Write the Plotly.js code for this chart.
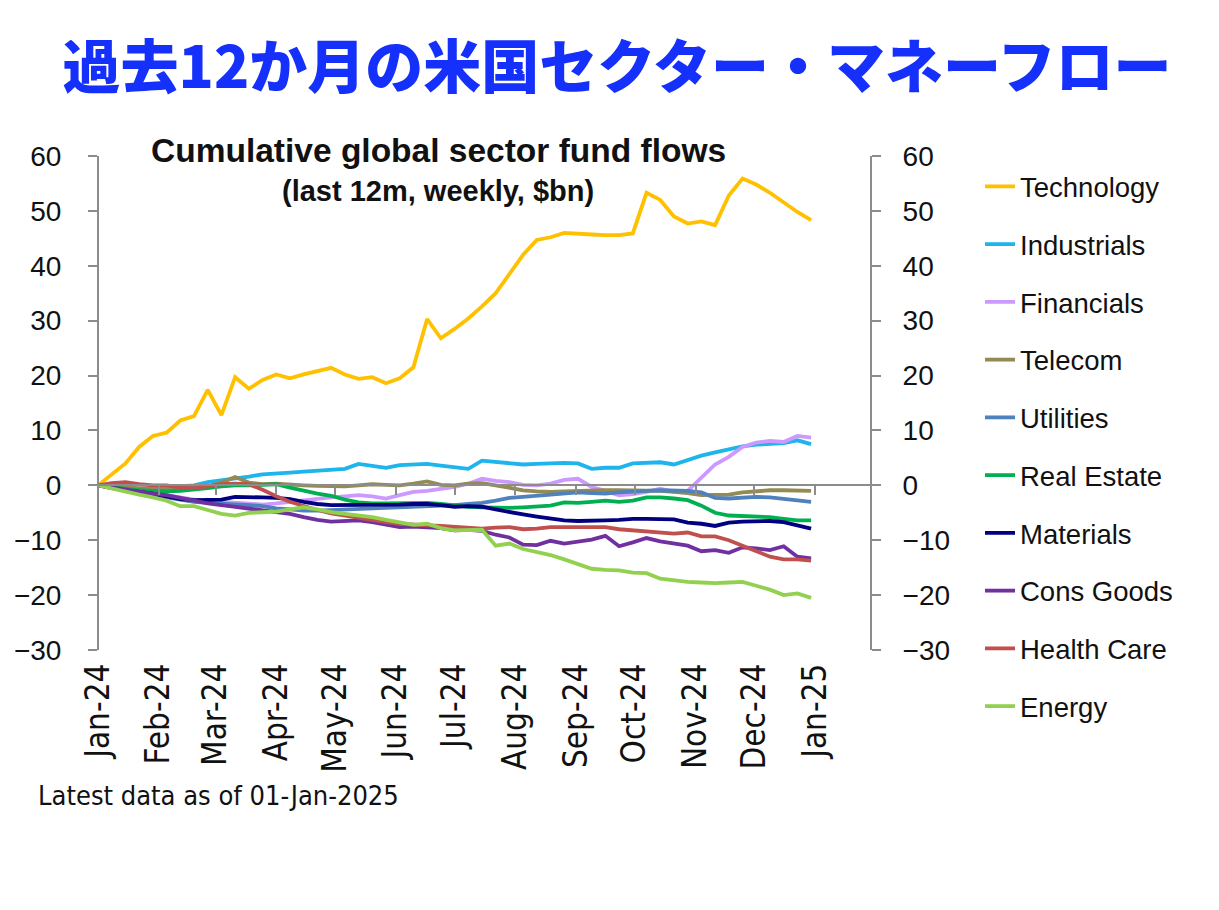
<!DOCTYPE html>
<html>
<head>
<meta charset="utf-8">
<script src="https://cdn.plot.ly/plotly-3.0.1.min.js"></script>
<style>
html,body{margin:0;padding:0;background:#fff;}
#chart{width:1219px;height:910px;}
</style>
</head>
<body>
<div id="chart"></div>
<script>
// ---- data (cumulative flows, $bn, weekly) ----
const dates = ['2024-01-01','2024-01-08','2024-01-15','2024-01-22','2024-01-29',
'2024-02-05','2024-02-12','2024-02-19','2024-02-26',
'2024-03-04','2024-03-11','2024-03-18','2024-03-25',
'2024-04-01','2024-04-08','2024-04-15','2024-04-22','2024-04-29',
'2024-05-06','2024-05-13','2024-05-20','2024-05-27',
'2024-06-03','2024-06-10','2024-06-17','2024-06-24',
'2024-07-01','2024-07-08','2024-07-15','2024-07-22','2024-07-29',
'2024-08-05','2024-08-12','2024-08-19','2024-08-26',
'2024-09-02','2024-09-09','2024-09-16','2024-09-23','2024-09-30',
'2024-10-07','2024-10-14','2024-10-21','2024-10-28',
'2024-11-04','2024-11-11','2024-11-18','2024-11-25',
'2024-12-02','2024-12-09','2024-12-16','2024-12-23','2024-12-30'];

const technology = [0,2.0,4.0,7.0,9.0,9.6,11.8,12.6,17.4,12.8,19.7,17.6,19.2,20.2,19.5,20.2,20.8,21.4,20.2,19.4,19.7,18.6,19.5,21.5,30.3,26.8,28.5,30.4,32.6,35.0,38.5,42.0,44.7,45.2,46.0,45.8,45.7,45.6,45.6,45.9,53.3,52.0,49.0,47.7,48.1,47.4,52.8,55.9,54.8,53.3,51.5,49.8,48.3];
const industrials = [0,-0.3,-0.6,-0.8,-0.5,-0.3,-0.1,0,0.6,0.9,1.3,1.6,2.0,2.1,2.3,2.5,2.7,2.9,3.0,3.9,3.6,3.2,3.7,3.8,3.9,3.6,3.3,3.0,4.5,4.3,4.1,3.8,3.9,4.0,4.1,4.0,3.0,3.2,3.2,4.0,4.1,4.2,3.8,4.6,5.4,6.0,6.5,7.1,7.4,7.6,7.7,8.2,7.5];
const financials = [0,-0.4,-0.8,-1.2,-1.5,-1.8,-2.2,-2.6,-3.0,-3.0,-3.2,-3.4,-3.5,-3.3,-3.0,-2.8,-2.5,-2.2,-2.0,-1.8,-2.0,-2.4,-1.8,-1.2,-1.0,-0.6,-0.3,0.3,1.2,0.8,0.6,0.1,0.0,0.3,1.0,1.2,-0.3,-1.0,-1.8,-1.6,-1.2,-0.6,-1.2,-1.0,1.4,3.8,5.2,7.0,7.8,8.1,7.9,9.0,8.7];
const telecom = [0,-0.2,-0.4,-0.6,-0.7,-0.8,-0.6,-0.6,-0.2,0.5,1.5,0.5,0.2,0.3,0.1,0.0,-0.1,-0.2,-0.2,0.0,0.2,0.1,0.0,0.3,0.7,0.1,0.0,0.3,0.4,0.0,-0.5,-0.9,-1.1,-1.2,-1.1,-1.0,-0.9,-0.9,-0.9,-0.9,-0.9,-1.0,-1.2,-1.4,-1.8,-1.8,-1.7,-1.3,-1.1,-0.9,-0.9,-1.0,-1.0];
const utilities = [0,-0.5,-1.0,-1.5,-1.8,-2.2,-2.6,-3.0,-3.2,-3.3,-3.4,-3.6,-3.8,-4.2,-4.4,-4.6,-4.6,-4.5,-4.4,-4.3,-4.2,-4.1,-4.0,-3.9,-3.9,-3.8,-3.6,-3.4,-3.2,-2.8,-2.3,-2.1,-1.9,-1.8,-1.6,-1.3,-1.4,-1.5,-1.3,-1.1,-1.0,-0.9,-0.9,-1.0,-1.3,-2.3,-2.4,-2.2,-2.1,-2.2,-2.5,-2.8,-3.0];
const realEstate = [0,-0.3,-0.6,-0.9,-1.0,-1.1,-1.0,-0.8,-0.5,-0.2,0.0,0.0,0.1,0.2,-0.4,-1.0,-1.5,-1.9,-2.6,-3.1,-3.3,-3.3,-3.3,-3.2,-3.2,-3.4,-3.7,-3.9,-4.0,-4.1,-4.1,-4.0,-3.9,-3.7,-3.1,-3.2,-3.0,-2.8,-3.0,-2.8,-2.2,-2.2,-2.4,-2.7,-3.7,-5.0,-5.5,-5.6,-5.6,-5.8,-6.1,-6.4,-6.4];
const materials = [0,-0.5,-0.9,-1.2,-1.5,-2.0,-2.5,-2.7,-2.7,-2.6,-2.1,-2.1,-2.2,-2.3,-2.5,-3.0,-3.4,-3.6,-3.6,-3.5,-3.5,-3.6,-3.5,-3.4,-3.4,-3.6,-3.9,-3.8,-3.9,-4.4,-4.9,-5.3,-5.7,-6.1,-6.4,-6.5,-6.5,-6.4,-6.3,-6.1,-6.1,-6.1,-6.2,-6.8,-7.0,-7.4,-6.8,-6.6,-6.5,-6.5,-6.7,-7.3,-7.9];
const consGoods = [0,-0.4,-0.8,-1.2,-1.5,-1.8,-2.3,-2.8,-3.3,-3.6,-3.9,-4.2,-4.5,-4.8,-5.2,-5.8,-6.3,-6.6,-6.5,-6.4,-6.7,-7.2,-7.6,-7.5,-7.6,-7.8,-8.2,-8.1,-8.3,-9.0,-9.5,-10.8,-10.9,-10.1,-10.6,-10.3,-9.9,-9.2,-11.1,-10.4,-9.6,-10.2,-10.6,-11.0,-12.0,-11.8,-12.3,-11.3,-11.5,-11.8,-11.1,-13.0,-13.3];
const healthCare = [0,0.4,0.6,0.2,0.0,0.0,-0.4,-0.5,-0.2,0.2,0.3,0.2,-0.8,-2.0,-3.0,-3.8,-4.5,-5.1,-5.5,-6.0,-6.3,-6.7,-7.0,-7.2,-7.3,-7.4,-7.6,-7.8,-7.9,-7.7,-7.6,-8.0,-7.9,-7.6,-7.6,-7.5,-7.5,-7.6,-8.0,-8.2,-8.3,-8.6,-8.8,-8.6,-9.3,-9.3,-10.0,-11.0,-12.0,-13.0,-13.5,-13.5,-13.7];
const energy = [0,-0.6,-1.1,-1.7,-2.2,-2.8,-3.8,-3.8,-4.5,-5.2,-5.5,-5.0,-4.9,-4.8,-4.4,-4.0,-4.4,-4.9,-5.2,-5.5,-5.8,-6.3,-6.8,-7.2,-7.0,-7.8,-8.2,-8.2,-8.1,-11.0,-10.6,-11.6,-12.2,-12.7,-13.5,-14.3,-15.2,-15.4,-15.5,-15.9,-16.0,-17.0,-17.3,-17.6,-17.7,-17.8,-17.7,-17.6,-18.3,-19.0,-20.0,-19.7,-20.5];

const seriesNames = ['Technology','Industrials','Financials','Telecom','Utilities','Real Estate','Materials','Cons Goods','Health Care','Energy'];
const seriesValues = [technology,industrials,financials,telecom,utilities,realEstate,materials,consGoods,healthCare,energy];
const seriesColors = ['#FFC000','#1EB4EC','#CC99FF','#948A54','#4F81BD','#00B050','#000080','#7030A0','#C0504D','#92D050'];

const yTicks = [-30,-20,-10,0,10,20,30,40,50,60];
const mainTitle = '過去12か月の米国セクター・マネーフロー';
const subTitle1 = 'Cumulative global sector fund flows';
const subTitle2 = '(last 12m, weekly, $bn)';
const footNote = 'Latest data as of 01-Jan-2025';

// ---- layout geometry ----
const W = 1219, H = 910;
const L = 98, R = 871, T = 156, B = 650;
const pw = R - L, ph = B - T;
const px = x => (x - L) / pw;
const py = y => (B - y) / ph;
const AX = '#8C8C8C';
const sans = 'Liberation Sans, Arial, sans-serif';
const narrow = 'Liberation Sans Narrow, Arial Narrow, DejaVu Sans Condensed, sans-serif';

const traces = seriesNames.map((n, i) => ({
  type: 'scatter', mode: 'lines', name: n,
  x: dates, y: seriesValues[i],
  line: {color: seriesColors[i], width: 3.8},
  legendgroup: 'g' + i,
  hoverinfo: 'skip'
}));
// carriers for the extra axes
traces.push({type:'scatter', x: [], y: [], xaxis: 'x2', yaxis: 'y', showlegend: false, hoverinfo: 'skip'});
traces.push({type:'scatter', x: [], y: [], xaxis: 'x', yaxis: 'y2', showlegend: false, hoverinfo: 'skip'});

const xRange = ['2024-01-01', '2025-01-29 14:00'];
const yRange = [-30, 60];

const layout = {
  width: W, height: H,
  margin: {l: L, r: W - R, t: T, b: H - B, pad: 0},
  paper_bgcolor: '#fff', plot_bgcolor: 'rgba(0,0,0,0)',
  showlegend: true,
  title: {
    text: mainTitle,
    font: {family: 'Noto Sans CJK JP, sans-serif', size: 58, color: '#1530FA', weight: 900},
    x: 617 / W, xanchor: 'center', xref: 'container',
    y: 1 - 68 / H, yanchor: 'middle', yref: 'container'
  },
  // zero-positioned axis line with month ticks
  xaxis: {
    type: 'date', range: xRange, domain: [0, 1],
    anchor: 'free', position: py(485),
    showline: true, linecolor: AX, linewidth: 2,
    ticks: 'outside', ticklen: 9, tickwidth: 2, tickcolor: AX,
    dtick: 'M1', tick0: '2024-01-01', showticklabels: false,
    showgrid: false, zeroline: false, fixedrange: true
  },
  // bottom axis carrying the month labels
  xaxis2: {
    type: 'date', range: xRange, overlaying: 'x', anchor: 'y', side: 'bottom',
    showline: false, ticks: '', dtick: 'M1', tick0: '2024-01-01',
    tickformat: '%b-%y', tickangle: -90,
    tickfont: {family: narrow, size: 33, color: '#111'},
    ticklabelstandoff: 6,
    showgrid: false, zeroline: false, fixedrange: true
  },
  yaxis: {
    range: yRange, tickvals: yTicks, anchor: 'free', position: 0,
    showline: true, linecolor: AX, linewidth: 2,
    ticks: 'outside', ticklen: 9, tickwidth: 2, tickcolor: AX,
    tickfont: {family: sans, size: 28, color: '#111'},
    ticklabelstandoff: 21,
    showgrid: false, zeroline: false, fixedrange: true
  },
  yaxis2: {
    range: yRange, tickvals: yTicks, overlaying: 'y', side: 'right', anchor: 'free', position: 1,
    showline: true, linecolor: AX, linewidth: 2,
    ticks: 'outside', ticklen: 9, tickwidth: 2, tickcolor: AX,
    tickfont: {family: sans, size: 28, color: '#111'},
    ticklabelstandoff: 16,
    showgrid: false, zeroline: false, fixedrange: true
  },
  legend: {
    x: 980 / W, xanchor: 'left', xref: 'container',
    y: 1 - 162 / H, yanchor: 'top', yref: 'container',
    maxheight: 640,
    font: {family: sans, size: 27.5, color: '#111'},
    tracegroupgap: 19, traceorder: 'grouped',
    bgcolor: 'rgba(0,0,0,0)', borderwidth: 0
  },
  annotations: [
    {text: '<b>' + subTitle1 + '</b>', xref: 'paper', yref: 'paper', x: px(438), y: py(150),
     xanchor: 'center', yanchor: 'middle', showarrow: false,
     font: {family: sans, size: 33.5, color: '#111'}},
    {text: '<b>' + subTitle2 + '</b>', xref: 'paper', yref: 'paper', x: px(438), y: py(191),
     xanchor: 'center', yanchor: 'middle', showarrow: false,
     font: {family: sans, size: 29, color: '#111'}},
    {text: footNote, xref: 'paper', yref: 'paper', x: px(36), y: py(795),
     xanchor: 'left', yanchor: 'middle', showarrow: false,
     font: {family: narrow, size: 27, color: '#111'}}
  ]
};

Plotly.newPlot('chart', traces, layout, {staticPlot: true, displayModeBar: false});
</script>
</body>
</html>
